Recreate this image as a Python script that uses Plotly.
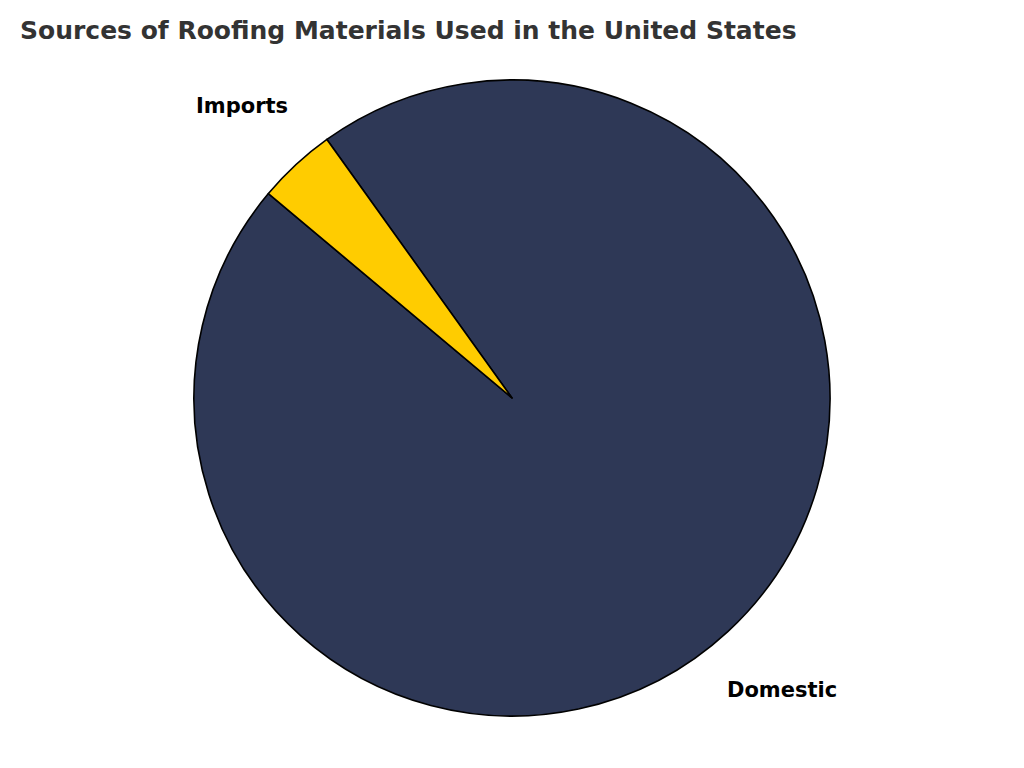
import math
import plotly.graph_objects as go

# Data
labels = ["Domestic", "Imports"]
values = [96, 4]
colors = ["#2E3856", "#FFCC00"]
title_text = "Sources of Roofing Materials Used in the United States"

W, H = 1024, 768
OFF = 8  # page body margin in the browser
start_angle = 140  # degrees, counterclockwise from 3 o'clock
label_distance = 1.25

# pie geometry (pixels, in figure coords)
cx_px, cy_px, r_px = 512 - OFF, 398 - OFF, 318
dom_x = [(cx_px - r_px) / W, (cx_px + r_px) / W]
dom_y = [(H - (cy_px + r_px)) / H, (H - (cy_px - r_px)) / H]

total = sum(values)
# plotly (counterclockwise): first slice spans clockwise from `rotation`
rotation = (90 - start_angle) - 360 * values[0] / total + 360

fig = go.Figure(go.Pie(
    labels=labels,
    values=values,
    sort=False,
    direction="counterclockwise",
    rotation=rotation,
    marker=dict(colors=colors, line=dict(color="#000000", width=1.6)),
    textinfo="none",
    hoverinfo="label+percent",
    showlegend=False,
    domain=dict(x=dom_x, y=dom_y),
))

# outside labels computed from the slice angles
angle = start_angle
cx = cx_px / W
cy = 1 - cy_px / H
for lab, v in zip(labels, values):
    span = 360 * v / total
    mid = math.radians(angle + span / 2)
    angle += span
    fig.add_annotation(
        x=cx + label_distance * r_px / W * math.cos(mid),
        y=cy + label_distance * r_px / H * math.sin(mid),
        xref="paper", yref="paper",
        text=f"<b>{lab}</b>", showarrow=False,
        xanchor="center", yanchor="middle",
        font=dict(family="DejaVu Sans", size=21, color="#000000"),
    )

fig.update_layout(
    width=W, height=H,
    margin=dict(l=0, r=0, t=0, b=0),
    paper_bgcolor="white", plot_bgcolor="white",
    title=dict(
        text=f"<b>{title_text}</b>",
        x=(20 - OFF) / W, xanchor="left", xref="paper",
        y=1 - (30 - OFF) / H, yanchor="middle", yref="container",
        font=dict(family="DejaVu Sans", size=25, color="#333333"),
    ),
)

fig.write_html("out.html")
